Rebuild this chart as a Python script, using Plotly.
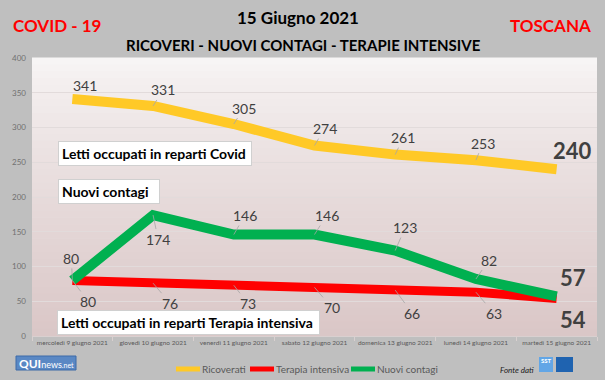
import plotly.graph_objects as go

# ---------------- data ----------------
days = ["mercoledì 9 giugno 2021", "giovedì 10 giugno 2021", "venerdì 11 giugno 2021",
        "sabato 12 giugno 2021", "domenica 13 giugno 2021", "lunedì 14 giugno 2021",
        "martedì 15 giugno 2021"]
ricoverati = [341, 331, 305, 274, 261, 253, 240]
terapia_intensiva = [80, 76, 73, 70, 66, 63, 54]
nuovi_contagi = [80, 174, 146, 146, 123, 82, 57]
series_names = ["Ricoverati", "Terapia intensiva", "Nuovi contagi"]
y_ticks = [0, 50, 100, 150, 200, 250, 300, 350, 400]

# ---------------- layout geometry ----------------
W, H = 605, 380
ML, MR, MT, MB = 32, 8, 58, 44
PW, PH = W - ML - MR, H - MT - MB

def px(xp):
    return (xp - ML) / PW

def py(yp):
    return (H - MB - yp) / PH

FONT = "Lato"
LABEL_COLOR = "#404040"
COLORS = ["#FFC927", "#FF0000", "#00B050"]

# label offsets (pixels) relative to the point
off_ric = [(13, -14), (10, -16), (10, -16), (10, -17), (8, -17), (7, -17), (16, -19)]
off_nuo = [(-1, -22), (5, 24), (11, -19), (12, -19), (10, -23), (13, -19), (16, -19)]
off_ter = [(16, 21), (17, 20), (14, 18), (17, 20), (17, 23), (18, 21), (16, 21)]

fig = go.Figure()
fig.add_trace(go.Scatter(x=days, y=ricoverati, mode="lines", name=series_names[0],
                         line=dict(color=COLORS[0], width=10), showlegend=False))
fig.add_trace(go.Scatter(x=days, y=terapia_intensiva, mode="lines", name=series_names[1],
                         line=dict(color=COLORS[1], width=9), showlegend=False))
fig.add_trace(go.Scatter(x=days, y=nuovi_contagi, mode="lines", name=series_names[2],
                         line=dict(color=COLORS[2], width=10), showlegend=False))

annotations = []

def add_labels(values, offsets, no_arrow_idx):
    n = len(values)
    for i, (d, v) in enumerate(zip(days, values)):
        dx, dy = offsets[i]
        last = i == n - 1
        font = dict(family=FONT, size=22 if last else 14, color=LABEL_COLOR)
        text = f"<b>{v}</b>" if last else str(v)
        if last or i in no_arrow_idx:
            annotations.append(dict(x=d, y=v, xref="x", yref="y", text=text, showarrow=False,
                                    xanchor="center", yanchor="middle",
                                    xshift=dx, yshift=-dy, font=font))
        else:
            annotations.append(dict(x=d, y=v, xref="x", yref="y", text=text, showarrow=True,
                                    arrowhead=0, arrowwidth=0.8, arrowcolor="#A6A6A6",
                                    ax=dx, ay=dy, standoff=0, font=font))

add_labels(ricoverati, off_ric, {0})
add_labels(nuovi_contagi, off_nuo, set())
add_labels(terapia_intensiva, off_ter, set())

# text boxes
def box(text, x0, x1, yc):
    annotations.append(dict(x=px(x0), y=py(yc), xref="paper", yref="paper", xanchor="left",
                            yanchor="middle", text=f"<b>{text}</b>", showarrow=False,
                            bgcolor="white", bordercolor="#D0D0D0", borderwidth=1, borderpad=3,
                            width=x1 - x0 - 8, align="left",
                            font=dict(family=FONT, size=14, color="black")))

box("Letti occupati in reparti Covid", 58, 252, 153)
box("Nuovi contagi", 58, 160, 191)
box("Letti occupati in reparti Terapia intensiva", 57, 320, 322)

def txt(x, y, text, size, color, xanchor="center"):
    annotations.append(dict(x=px(x), y=py(y), xref="paper", yref="paper", text=text,
                            xanchor=xanchor, yanchor="middle", showarrow=False,
                            font=dict(family=FONT, size=size, color=color)))

# titles
txt(298, 17, "<b>15 Giugno 2021</b>", 17, "black")
txt(303, 45, "<b>RICOVERI - NUOVI CONTAGI - TERAPIE INTENSIVE</b>", 15, "black")
txt(11, 25, "<b>COVID - 19</b>", 17, "#FF0000", "left")
txt(593, 25, "<b>TOSCANA</b>", 17, "#FF0000", "right")
txt(536, 370, "<i>Fonte dati</i>", 8, "#202020", "right")
txt(46, 363, "<b>QUI</b><span style='font-size:9px'>news</span><span style='font-size:7px'>.net</span>",
    12, "white")
txt(546, 361, "<b>SST</b>", 6, "white")

shapes = []
# gradient background for plot area
N = 40
top = (248, 246, 246)
bot = (218, 199, 199)
for k in range(N):
    t = (k + 0.5) / N
    tt = t ** 0.8
    c = tuple(round(top[j] + (bot[j] - top[j]) * tt) for j in range(3))
    shapes.append(dict(type="rect", xref="paper", yref="paper", x0=0, x1=1,
                       y0=1 - (k + 1) / N, y1=1 - k / N + 0.002, line=dict(width=0),
                       fillcolor=f"rgb{c}", layer="below"))
# logos
shapes += [
    dict(type="rect", xref="paper", yref="paper", x0=px(16), x1=px(76), y0=py(370), y1=py(356),
         fillcolor="#5A88C4", line=dict(color="#3D6AA8", width=1), layer="above"),
    dict(type="rect", xref="paper", yref="paper", x0=px(539), x1=px(553), y0=py(372), y1=py(357),
         fillcolor="#62A6E6", line=dict(width=0)),
    dict(type="rect", xref="paper", yref="paper", x0=px(556), x1=px(573), y0=py(372), y1=py(357),
         fillcolor="#1F63B0", line=dict(width=0)),
]

# legend (line sample + name)
legend_x = [176, 250, 351]
for name, color, lx in zip(series_names, COLORS, legend_x):
    shapes.append(dict(type="line", xref="paper", yref="paper", x0=px(lx), x1=px(lx + 24),
                       y0=py(369), y1=py(369), line=dict(color=color, width=5)))
    txt(lx + 24, 369, name, 10, "#595959", "left")

fig.update_layout(
    width=W, height=H,
    margin=dict(l=ML, r=MR, t=MT, b=MB, autoexpand=False),
    paper_bgcolor="#BFBFBF",
    plot_bgcolor="#F0EAEA",
    font=dict(family=FONT, color="#595959"),
    annotations=annotations,
    shapes=shapes,
    showlegend=False,
    xaxis=dict(type="category", range=[-0.5, 6.5], showgrid=False, zeroline=False,
               ticks="outside", tickson="boundaries", ticklen=4, tickcolor="#D9D0D0",
               showline=True, linecolor="#D9D0D0", linewidth=1, tickangle=0, automargin=False,
               tickfont=dict(family=FONT, size=6.5, color="#595959")),
    yaxis=dict(range=[0, 400], tickvals=y_ticks, showgrid=True, gridcolor="#E2DBDB",
               gridwidth=1, zeroline=False, showline=False, ticklabelstandoff=5, automargin=False,
               tickfont=dict(family=FONT, size=8, color="#707070")),
)

fig.write_html("out.html", config={"displayModeBar": False},
               post_script="document.body.style.margin='0';document.body.style.padding='0';")
